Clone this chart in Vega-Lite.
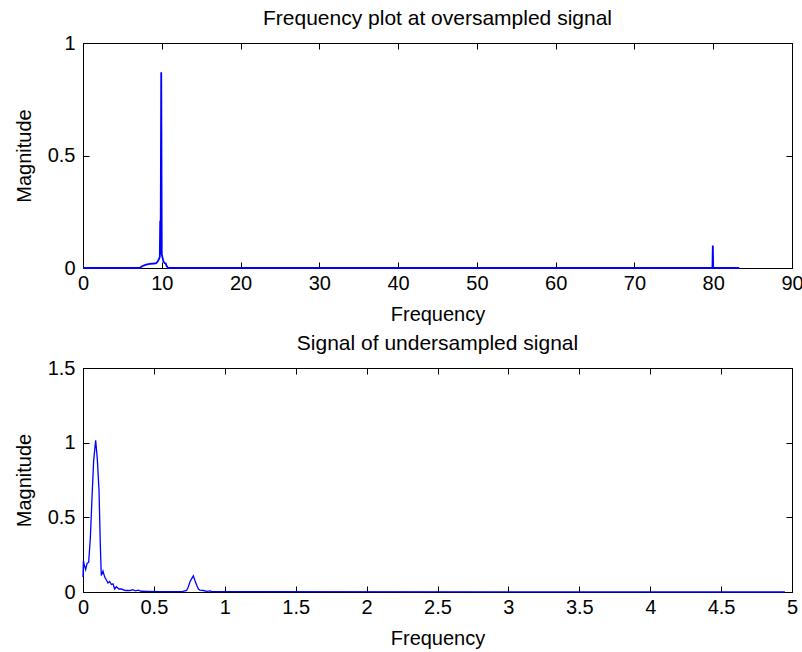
{
  "$schema": "https://vega.github.io/schema/vega-lite/v6.json",
  "padding": {"left": 13, "top": 7, "right": 5, "bottom": 0},
  "spacing": 7,
  "datasets": {
    "over": [
      {"f": 0, "m": 0}, {"f": 7.2, "m": 0}, {"f": 7.5, "m": 0.008}, {"f": 8.0, "m": 0.015},
      {"f": 8.5, "m": 0.018}, {"f": 9.0, "m": 0.02}, {"f": 9.3, "m": 0.022}, {"f": 9.5, "m": 0.03},
      {"f": 9.65, "m": 0.04}, {"f": 9.75, "m": 0.05}, {"f": 9.8, "m": 0.21}, {"f": 9.85, "m": 0.06},
      {"f": 9.93, "m": 0.87}, {"f": 10.0, "m": 0.06}, {"f": 10.1, "m": 0.045}, {"f": 10.2, "m": 0.03},
      {"f": 10.35, "m": 0.022}, {"f": 10.5, "m": 0.02}, {"f": 10.6, "m": 0.01}, {"f": 10.8, "m": 0},
      {"f": 79.9, "m": 0}, {"f": 79.95, "m": 0.1}, {"f": 80.0, "m": 0}, {"f": 83.3, "m": 0}
    ],
    "under": [
      {"f": 0, "m": 0.1}, {"f": 0.003, "m": 0.21}, {"f": 0.0094, "m": 0.18}, {"f": 0.0188, "m": 0.15},
      {"f": 0.0282, "m": 0.19}, {"f": 0.04, "m": 0.2}, {"f": 0.0517, "m": 0.36}, {"f": 0.0635, "m": 0.63},
      {"f": 0.0752, "m": 0.88}, {"f": 0.0893, "m": 1.015}, {"f": 0.101, "m": 0.89}, {"f": 0.113, "m": 0.68},
      {"f": 0.122, "m": 0.32}, {"f": 0.129, "m": 0.11}, {"f": 0.141, "m": 0.14}, {"f": 0.153, "m": 0.1},
      {"f": 0.165, "m": 0.08}, {"f": 0.176, "m": 0.06}, {"f": 0.188, "m": 0.07}, {"f": 0.2, "m": 0.05},
      {"f": 0.212, "m": 0.055}, {"f": 0.223, "m": 0.02}, {"f": 0.235, "m": 0.035}, {"f": 0.254, "m": 0.02},
      {"f": 0.27, "m": 0.02}, {"f": 0.3, "m": 0.01}, {"f": 0.33, "m": 0.01}, {"f": 0.35, "m": 0.015},
      {"f": 0.37, "m": 0.008}, {"f": 0.39, "m": 0.012}, {"f": 0.41, "m": 0.005}, {"f": 0.45, "m": 0.004},
      {"f": 0.55, "m": 0.003}, {"f": 0.7, "m": 0.003}, {"f": 0.731, "m": 0.01}, {"f": 0.743, "m": 0.035},
      {"f": 0.755, "m": 0.07}, {"f": 0.767, "m": 0.09}, {"f": 0.778, "m": 0.108}, {"f": 0.79, "m": 0.075},
      {"f": 0.802, "m": 0.045}, {"f": 0.814, "m": 0.02}, {"f": 0.825, "m": 0.012}, {"f": 0.849, "m": 0.01},
      {"f": 0.872, "m": 0.004}, {"f": 0.896, "m": 0.008}, {"f": 0.908, "m": 0.003}, {"f": 1.0, "m": 0.002},
      {"f": 4.95, "m": 0}
    ]
  },
  "vconcat": [
    {
      "width": 709,
      "height": 225,
      "title": "Frequency plot at oversampled signal",
      "data": {"name": "over"},
      "layer": [
        {
          "mark": {"type": "line", "color": "#0000ff", "strokeWidth": 1.8},
          "encoding": {
            "x": {"field": "f", "type": "quantitative", "scale": {"domain": [0, 90], "nice": false, "zero": false},
                  "axis": {"orient": "bottom", "title": "Frequency", "values": [0, 10, 20, 30, 40, 50, 60, 70, 80, 90], "format": "~r"}},
            "y": {"field": "m", "type": "quantitative", "scale": {"domain": [0, 1], "nice": false},
                  "axis": {"orient": "left", "title": "Magnitude", "values": [0, 0.5, 1], "format": "~r"}}
          }
        },
        {
          "mark": {"type": "line", "strokeOpacity": 0},
          "encoding": {
            "x": {"field": "f", "type": "quantitative",
                  "axis": {"orient": "top", "title": null, "labels": false, "values": [0, 10, 20, 30, 40, 50, 60, 70, 80, 90]}},
            "y": {"field": "m", "type": "quantitative",
                  "axis": {"orient": "right", "title": null, "labels": false, "values": [0, 0.5, 1]}}
          }
        }
      ],
      "resolve": {"axis": {"x": "independent", "y": "independent"}}
    },
    {
      "width": 709,
      "height": 224,
      "title": "Signal of undersampled signal",
      "data": {"name": "under"},
      "layer": [
        {
          "mark": {"type": "line", "color": "#0000ff", "strokeWidth": 1.3},
          "encoding": {
            "x": {"field": "f", "type": "quantitative", "scale": {"domain": [0, 5], "nice": false, "zero": false},
                  "axis": {"orient": "bottom", "title": "Frequency", "values": [0, 0.5, 1, 1.5, 2, 2.5, 3, 3.5, 4, 4.5, 5], "format": "~r"}},
            "y": {"field": "m", "type": "quantitative", "scale": {"domain": [0, 1.5], "nice": false},
                  "axis": {"orient": "left", "title": "Magnitude", "values": [0, 0.5, 1, 1.5], "format": "~r"}}
          }
        },
        {
          "mark": {"type": "line", "strokeOpacity": 0},
          "encoding": {
            "x": {"field": "f", "type": "quantitative",
                  "axis": {"orient": "top", "title": null, "labels": false, "values": [0, 0.5, 1, 1.5, 2, 2.5, 3, 3.5, 4, 4.5, 5]}},
            "y": {"field": "m", "type": "quantitative",
                  "axis": {"orient": "right", "title": null, "labels": false, "values": [0, 0.5, 1, 1.5]}}
          }
        }
      ],
      "resolve": {"axis": {"x": "independent", "y": "independent"}}
    }
  ],
  "config": {
    "font": "Liberation Sans",
    "background": "white",
    "view": {"stroke": "#000000", "strokeWidth": 1},
    "title": {"fontSize": 21, "fontWeight": "normal", "color": "#000000", "anchor": "middle", "offset": 4, "font": "Liberation Sans"},
    "axis": {
      "grid": false,
      "domainColor": "#000000",
      "domainWidth": 1,
      "tickColor": "#000000",
      "tickSize": -6,
      "tickWidth": 1,
      "labelFontSize": 20,
      "labelColor": "#000000",
      "labelFont": "Liberation Sans",
      "labelFlush": false,
      "labelOverlap": false,
      "titleFontSize": 20,
      "titleFontWeight": "normal",
      "titleColor": "#000000",
      "titleFont": "Liberation Sans"
    },
    "axisX": {"labelPadding": 11, "titlePadding": 11},
    "axisY": {"labelPadding": 14, "titlePadding": 13}
  }
}
